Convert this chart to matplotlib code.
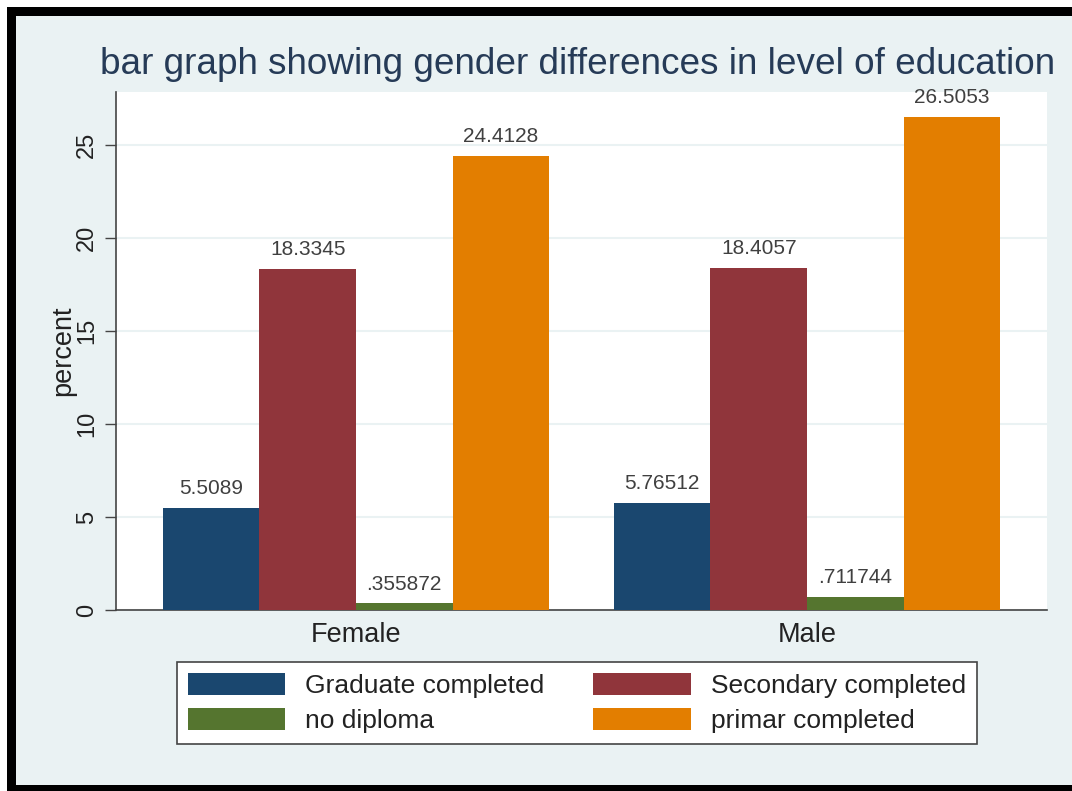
import matplotlib.pyplot as plt
import numpy as np
from matplotlib.patches import Rectangle

plt.rcParams['font.family'] = ['Liberation Sans', 'DejaVu Sans']

# data
genders = ['Female', 'Male']
levels = ['Graduate completed', 'Secondary completed', 'no diploma', 'primar completed']
female = [5.5089, 18.3345, 0.355872, 24.4128]
male = [5.76512, 18.4057, 0.711744, 26.5053]
female_labels = ['5.5089', '18.3345', '.355872', '24.4128']
male_labels = ['5.76512', '18.4057', '.711744', '26.5053']
colors = ['#1A476F', '#90353B', '#55752F', '#E37E00']
yticks = [0, 5, 10, 15, 20, 25]

W, H = 1072, 791
fig = plt.figure(figsize=(W / 100, H / 100), dpi=100)
fig.patch.set_facecolor('white')

# black frame and bluish graph region
fig.add_artist(Rectangle((7 / W, 0), 1, (H - 7) / H, transform=fig.transFigure,
                         facecolor='black', edgecolor='none', zorder=-2))
fig.add_artist(Rectangle((16 / W, 6 / H), 1, (785 - 16) / H, transform=fig.transFigure,
                         facecolor='#EAF2F3', edgecolor='none', zorder=-1))

ax = fig.add_axes([116 / W, 1 - 610 / H, (1047 - 116) / W, (610 - 92) / H])
ax.set_facecolor('white')

gap = 0.67
n = len(levels)
group_x = np.arange(len(genders)) * (n + gap)
values = [female, male]
labels = [female_labels, male_labels]

for i, lev in enumerate(levels):
    xs = group_x + i
    ys = [values[g][i] for g in range(len(genders))]
    bars = ax.bar(xs, ys, width=1.0, color=colors[i], label=lev, zorder=3)
    ax.bar_label(bars, labels=[labels[g][i] for g in range(len(genders))],
                 padding=7, fontsize=15, color='#404040')

ax.set_xlim(-0.5 - 0.485, group_x[-1] + n - 0.5 + 0.485)
ax.set_ylim(0, 27.85)
ax.set_xticks(group_x + (n - 1) / 2)
ax.set_xticklabels(genders, fontsize=19.5, color='#222222')
ax.tick_params(axis='x', length=0, pad=9)
ax.set_yticks(yticks)
ax.set_yticklabels([str(t) for t in yticks], rotation=90, va='center',
                   fontsize=17, color='#222222')
ax.tick_params(axis='y', length=8, width=1, color='#444444', pad=5)
ax.yaxis.grid(True, color='#EAF2F3', linewidth=1.5, zorder=0)
ax.set_axisbelow(True)

for side in ['top', 'right']:
    ax.spines[side].set_visible(False)
for side in ['left', 'bottom']:
    ax.spines[side].set_color('#444444')
    ax.spines[side].set_linewidth(1.2)

ax.set_ylabel('percent', fontsize=19.5, color='#222222', labelpad=0)

fig.text(578 / W, 1 - 65 / H, 'bar graph showing gender differences in level of education',
         ha='center', va='center', fontsize=26.6, color='#263B57')

handles, leg_labels = ax.get_legend_handles_labels()
order = [0, 2, 1, 3]
leg = fig.legend([handles[k] for k in order], [leg_labels[k] for k in order],
                 loc='upper center', bbox_to_anchor=(577 / W, 1 - 662 / H), ncol=2,
                 fontsize=19, frameon=True, fancybox=False, shadow=False,
                 handlelength=3.7, handleheight=0.91, handletextpad=0.76,
                 columnspacing=1.85, labelspacing=0.36, borderpad=0.42,
                 borderaxespad=0)
leg.get_frame().set_edgecolor('#444444')
leg.get_frame().set_linewidth(1.2)
leg.get_frame().set_facecolor('white')
leg.get_frame().set_alpha(1)
for t in leg.get_texts():
    t.set_color('#222222')

fig.savefig('out.png', dpi=100)
